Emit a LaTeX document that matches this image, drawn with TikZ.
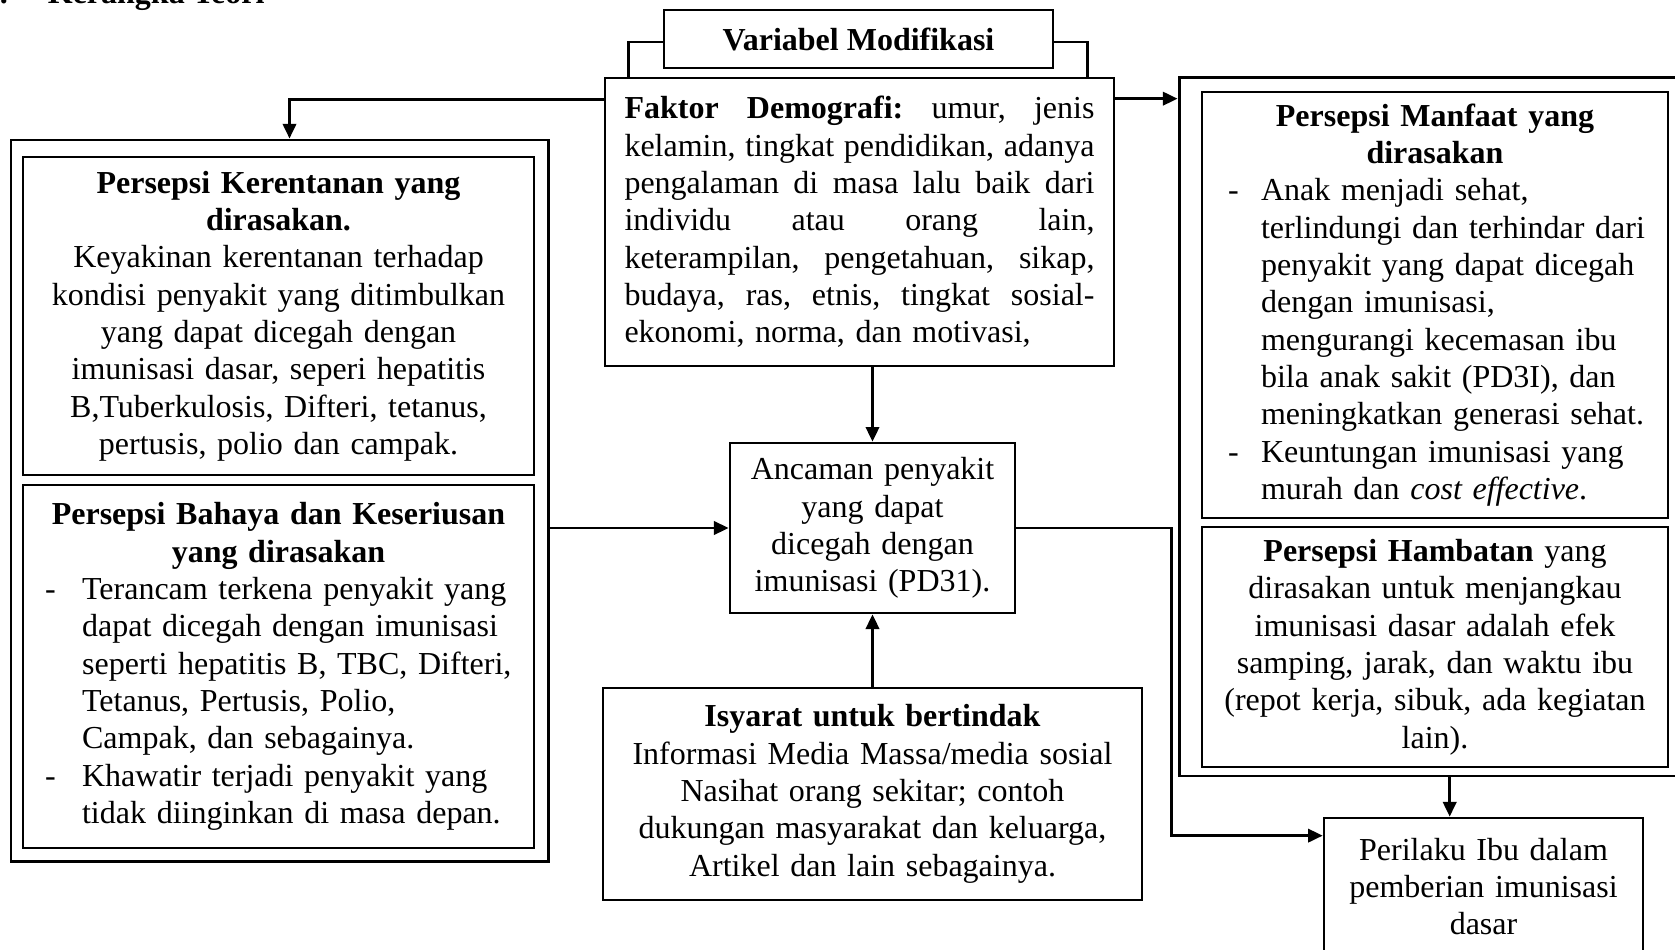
\documentclass[tikz,border=0pt]{standalone}
\usepackage{fontspec}
\setmainfont{Liberation Serif}
\usetikzlibrary{arrows.meta,calc}
\newcommand{\ctl}[1]{\hbox to\linewidth{\hss#1\hss}}
\newcommand{\jl}[1]{\hbox to\linewidth{#1}}
\newcommand{\lline}[1]{\hbox to\linewidth{#1\hfil}}
\newcommand{\dashl}[2]{\hbox to\linewidth{\hbox to #1{-\hfil}#2\hfil}}
\newcommand{\contl}[2]{\hbox to\linewidth{\hspace*{#1}#2\hfil}}
\tikzset{
  box/.style={draw, line width=1pt, inner sep=0pt, font=\fontsize{12}{14}\selectfont},
  arr/.style={line width=1pt, -{Triangle[length=5.5pt,width=5pt]}},
  conn/.style={line width=1pt}
}
\begin{document}
\begin{tikzpicture}[x=0.375pt,y=-0.375pt]
\useasboundingbox (0,0) rectangle (1675,950);
\clip (0,0) rectangle (1675,950);
\fill[white] (0,0) rectangle (1675,950);

% partially visible heading
\node[anchor=base west, inner sep=0pt, font=\fontsize{12}{14}\selectfont\bfseries] (title) at (-22,3) {B.\hspace{15pt}Kerangka Teori};

% outer group boxes
\node[box, line width=1.1pt, minimum width=201.4pt, minimum height=270.4pt] (LOuter) at (279.5,500.5) {};
\node[box, line width=1.1pt, minimum width=191.6pt, minimum height=262.1pt] (ROuter) at (1434.5,426.5) {};

\node[box, minimum width=145.9pt, minimum height=21.75pt] (VM) at (858.5,39) {\bfseries Variabel Modifikasi};

\node[box, minimum width=190.9pt, minimum height=108pt, text width=176.25pt] (Faktor) at (859.5,222) {%
\jl{\textbf{Faktor}\hfill\textbf{Demografi:}\hfill umur,\hfill jenis}
\jl{kelamin,\hfill tingkat\hfill pendidikan,\hfill adanya}
\jl{pengalaman\hfill di\hfill masa\hfill lalu\hfill baik\hfill dari}
\jl{individu\hfill atau\hfill orang\hfill lain,}
\jl{keterampilan,\hfill pengetahuan,\hfill sikap,}
\jl{budaya,\hfill ras,\hfill etnis,\hfill tingkat\hfill sosial-}
\lline{ekonomi, norma, dan motivasi,}};

\node[box, minimum width=191.6pt, minimum height=119.25pt, text width=185pt] (Kerentanan) at (278.5,316) {%
\ctl{\bfseries Persepsi Kerentanan yang}
\ctl{\bfseries dirasakan.}
\ctl{Keyakinan kerentanan terhadap}
\ctl{kondisi penyakit yang ditimbulkan}
\ctl{yang dapat dicegah dengan}
\ctl{imunisasi dasar, seperi hepatitis}
\ctl{B,Tuberkulosis, Difteri, tetanus,}
\ctl{pertusis, polio dan campak.}};

\node[box, minimum width=191.6pt, minimum height=136.1pt, text width=175.1pt] (Bahaya) at (278.5,666.5) {%
\ctl{\bfseries Persepsi Bahaya dan Keseriusan}
\ctl{\bfseries yang dirasakan}
\dashl{13.9pt}{Terancam terkena penyakit yang}
\contl{13.9pt}{dapat dicegah dengan imunisasi}
\contl{13.9pt}{seperti hepatitis B, TBC, Difteri,}
\contl{13.9pt}{Tetanus, Pertusis, Polio,}
\contl{13.9pt}{Campak, dan sebagainya.}
\dashl{13.9pt}{Khawatir terjadi penyakit yang}
\contl{13.9pt}{tidak diinginkan di masa depan.}};

\node[box, minimum width=106.9pt, minimum height=63.75pt, text width=100pt] (Ancaman) at (872.5,528) {%
\ctl{Ancaman penyakit}
\ctl{yang dapat}
\ctl{dicegah dengan}
\ctl{imunisasi (PD31).}};

\node[box, minimum width=202.1pt, minimum height=79.5pt, text width=195pt] (Isyarat) at (872.5,794) {%
\ctl{\bfseries Isyarat untuk bertindak}
\ctl{Informasi Media Massa/media sosial}
\ctl{Nasihat orang sekitar; contoh}
\ctl{dukungan masyarakat dan keluarga,}
\ctl{Artikel dan lain sebagainya.}};

\node[box, minimum width=174.75pt, minimum height=159.75pt, text width=155.25pt] (Manfaat) at (1435,305) {%
\ctl{\bfseries Persepsi Manfaat yang}
\ctl{\bfseries dirasakan}
\dashl{12.4pt}{Anak menjadi sehat,}
\contl{12.4pt}{terlindungi dan terhindar dari}
\contl{12.4pt}{penyakit yang dapat dicegah}
\contl{12.4pt}{dengan imunisasi,}
\contl{12.4pt}{mengurangi kecemasan ibu}
\contl{12.4pt}{bila anak sakit (PD3I), dan}
\contl{12.4pt}{meningkatkan generasi sehat.}
\dashl{12.4pt}{Keuntungan imunisasi yang}
\contl{12.4pt}{murah dan \textit{cost effective}.}};

\node[box, minimum width=174.75pt, minimum height=90pt, text width=170pt] (Hambatan) at (1435,647) {%
\ctl{\textbf{Persepsi Hambatan} yang}
\ctl{dirasakan untuk menjangkau}
\ctl{imunisasi dasar adalah efek}
\ctl{samping, jarak, dan waktu ibu}
\ctl{(repot kerja, sibuk, ada kegiatan}
\ctl{lain).}};

\node[box, minimum width=119.6pt, minimum height=51.4pt, text width=115pt] (Perilaku) at (1483.5,886.5) {%
\ctl{Perilaku Ibu dalam}
\ctl{pemberian imunisasi}
\ctl{dasar}};

% bracket between Variabel Modifikasi and Faktor Demografi
\draw[conn] ($(VM.west)+(0,3)$) -| ($(Faktor.north west)+(25,0)$);
\draw[conn] ($(VM.east)+(0,3)$) -| ($(Faktor.north east)+(-28,0)$);

% connectors
\draw[arr] ($(Faktor.north west)+(0,23)$) -| ($(LOuter.north west)+(280,0)$);
\coordinate (ra) at ($(Faktor.north east)+(0,22)$);
\draw[arr] (ra) -- (ra -| ROuter.west);
\draw[arr] (Faktor.south -| Ancaman.north) -- (Ancaman.north);
\draw[arr] (Isyarat.north -| Ancaman.south) -- (Ancaman.south);
\draw[arr] (LOuter.east |- Ancaman.west) -- (Ancaman.west);
\coordinate (bend) at ($(Ancaman.east)+(155,0)$);
\draw[arr] (Ancaman.east) -- (bend) |- ($(Perilaku.north west)+(0,19)$);
\coordinate (pin) at ($(Perilaku.north west)+(127,0)$);
\draw[arr] (ROuter.south -| pin) -- (pin);
\end{tikzpicture}
\end{document}
